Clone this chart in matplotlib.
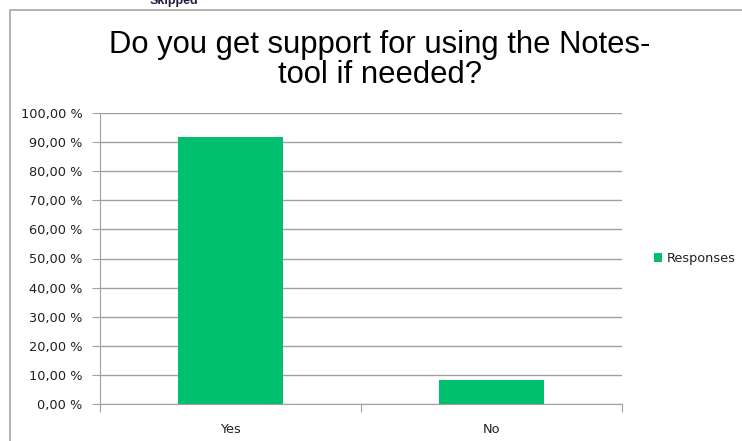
import matplotlib
matplotlib.use("Agg")
import matplotlib.pyplot as plt
from matplotlib.patches import Rectangle
from matplotlib.ticker import FuncFormatter, MultipleLocator

categories = ["Yes", "No"]
responses = [91.67, 8.33]
series_name = "Responses"
title = "Do you get support for using the Notes-\ntool if needed?"

W, H = 742, 441
fig = plt.figure(figsize=(W / 100, H / 100), dpi=100)

def fx(px):
    return px / W

def fy(py):
    return 1 - py / H

# outer chart border
fig.patches.append(Rectangle((fx(10), fy(445)), fx(740), fy(10) - fy(445),
                             transform=fig.transFigure, fill=False,
                             edgecolor="#a6a6a6", linewidth=1.2))
# cut-off text at top
fig.text(fx(150), fy(1), "Skipped", fontsize=9, fontweight="bold",
         family="Liberation Sans", va="center", ha="left", color="#1f1f3f")

ax = fig.add_axes([fx(100), fy(404), fx(622) - fx(100), fy(113) - fy(404)])
color = "#00bf6f"
x = list(range(len(categories)))
ax.bar(x, responses, width=0.4, color=color, label=series_name, zorder=3)
ax.set_xlim(-0.5, len(categories) - 0.5)
ax.set_ylim(0, 100)
ax.yaxis.set_major_locator(MultipleLocator(10))
ax.yaxis.set_major_formatter(FuncFormatter(lambda v, p: f"{v:.2f} %".replace(".", ",")))
ax.grid(axis="y", color="#a0a0a0", linewidth=1.0, zorder=0)
for s in ["top", "right"]:
    ax.spines[s].set_visible(False)
for s in ["left", "bottom"]:
    ax.spines[s].set_color("#a0a0a0")
ax.set_xticks([-0.5, 0.5, 1.5])
ax.set_xticklabels([])
ax.set_xticks(x, minor=True)
ax.set_xticklabels(categories, minor=True)
ax.tick_params(axis="x", which="major", length=6, color="#a0a0a0", direction="out")
ax.tick_params(axis="x", which="minor", length=0, pad=14, labelsize=9.3)
ax.tick_params(axis="y", length=6, color="#a0a0a0", labelsize=9.3, pad=6.5)
for lab in ax.get_xticklabels(minor=True) + ax.get_yticklabels():
    lab.set_family("DejaVu Sans")
    lab.set_color("#202020")

fig.text(fx(380), fy(60), title, ha="center", va="center", fontsize=22.3,
         family="Liberation Sans", linespacing=1.04)

leg = ax.legend(loc="center left", bbox_to_anchor=(fx(642 - 100) / (fx(622) - fx(100)), 0.5),
                frameon=False, handlelength=0.65, handleheight=0.65, handletextpad=0.35,
                prop={"family": "DejaVu Sans", "size": 9.3})
for t in leg.get_texts():
    t.set_color("#202020")

fig.savefig("out.png", dpi=100)
